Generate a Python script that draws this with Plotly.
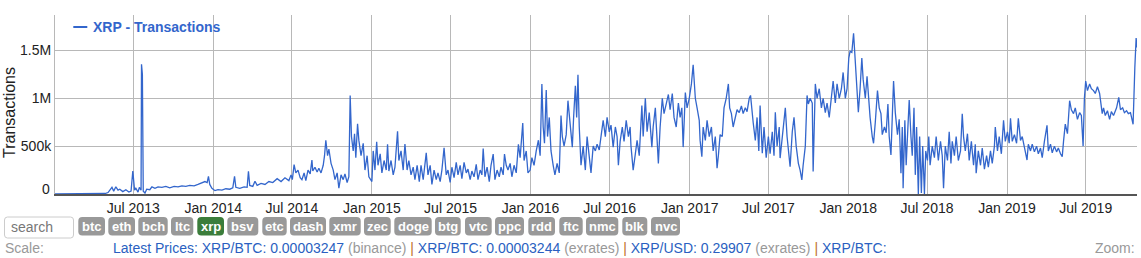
import plotly.graph_objects as go
import pandas as pd

W, H = 1141, 258
ML, MR, MT, MB = 55, 4, 15, 64

# ---- data: (day index since 2013-01-01, transactions in thousands) ----
seg_2013_2014 = [
    (1, 2), (35, 3), (81, 3), (116, 5), (123, 15), (132, 70), (136, 30), (141, 75), (146, 40), (150, 50),
    (157, 25), (164, 45), (171, 20), (176, 30), (180, 240), (184, 40), (187, 60), (192, 20), (195, 70), (199, 40),
    (200, 1356), (202, 1250), (204, 30), (208, 10), (212, 50), (219, 45), (224, 75), (231, 60), (238, 75), (247, 70),
    (256, 80), (265, 65), (275, 80), (284, 75), (293, 85), (302, 80), (311, 90), (321, 85), (330, 100), (339, 115),
    (346, 130), (351, 120), (354, 185), (357, 100), (362, 60), (369, 35), (376, 45), (385, 40), (394, 55), (403, 50),
    (410, 65), (414, 185), (417, 70), (426, 60), (436, 75), (443, 70), (446, 238), (449, 90), (456, 80), (461, 133),
    (466, 90), (475, 110), (484, 100), (493, 130), (502, 120), (512, 160), (521, 130), (530, 170), (539, 140), (544, 200),
    (547, 150), (551, 307), (555, 220), (560, 250), (565, 170),
]
seg_2014_2017 = [
    (569, 150), (574, 220), (578, 140), (583, 250), (588, 210), (592, 355), (594, 240), (599, 280), (604, 230), (608, 270),
    (613, 220), (618, 300), (621, 400), (624, 562), (628, 400), (631, 470), (636, 320), (641, 250), (645, 150), (650, 220),
    (654, 62), (659, 200), (664, 150), (668, 210), (673, 120), (677, 180), (680, 1030), (683, 600), (687, 450), (690, 630),
    (693, 380), (697, 734), (700, 560), (705, 400), (710, 530), (714, 250), (719, 400), (723, 180), (730, 130), (733, 450),
    (737, 250), (741, 545), (744, 300), (749, 420), (753, 220), (758, 350), (763, 250), (766, 520), (769, 240), (774, 350),
    (779, 200), (783, 280), (789, 655), (792, 350), (797, 450), (802, 250), (806, 522), (811, 250), (815, 350), (820, 200),
    (825, 280), (829, 150), (834, 300), (839, 130), (843, 300), (848, 150), (855, 430), (859, 200), (864, 300), (868, 100),
    (873, 250), (878, 150), (882, 220), (887, 130), (891, 250), (896, 483), (901, 200), (905, 250), (910, 120), (914, 280),
    (919, 170), (924, 330), (928, 200), (933, 300), (937, 160), (942, 330), (947, 220), (951, 260), (956, 150), (960, 240),
    (965, 180), (970, 310), (974, 150), (979, 250), (983, 200), (986, 476), (990, 180), (995, 280), (1000, 130), (1004, 300),
    (1009, 417), (1013, 150), (1018, 250), (1023, 180), (1027, 280), (1032, 200), (1035, 417), (1039, 300), (1043, 250), (1048, 320),
    (1052, 180), (1057, 300), (1062, 220), (1067, 520), (1071, 380), (1077, 741), (1080, 350), (1085, 450), (1089, 220), (1094, 250),
    (1098, 380), (1103, 300), (1108, 450), (1113, 562), (1117, 400), (1121, 1150), (1124, 700), (1127, 530), (1131, 1086), (1134, 600),
    (1138, 800), (1142, 450), (1147, 300), (1151, 200), (1156, 320), (1161, 220), (1165, 820), (1168, 600), (1172, 500), (1177, 620),
    (1181, 975), (1186, 700), (1191, 490), (1194, 800), (1198, 1130), (1201, 800), (1204, 1245), (1207, 700), (1211, 300), (1216, 500),
    (1221, 250), (1225, 600), (1230, 350), (1234, 220), (1239, 500), (1244, 450), (1248, 520), (1253, 460), (1257, 600), (1262, 770),
    (1267, 600), (1271, 800), (1276, 650), (1280, 720), (1285, 490), (1290, 700), (1294, 600), (1297, 300), (1301, 550), (1306, 700),
    (1310, 550), (1315, 770), (1320, 600), (1324, 700), (1326, 500), (1331, 250), (1336, 420), (1340, 560), (1345, 400), (1351, 925),
    (1354, 600), (1359, 1000), (1363, 650), (1368, 850), (1374, 490), (1377, 700), (1382, 900), (1385, 600), (1389, 320), (1393, 700),
    (1398, 1000), (1402, 840), (1407, 950), (1412, 1040), (1416, 880), (1421, 1050), (1425, 800), (1430, 700), (1435, 950), (1439, 800),
    (1443, 900), (1446, 490), (1451, 1060), (1455, 900), (1460, 1000), (1465, 1150), (1469, 1350), (1474, 1000), (1478, 900), (1483, 770),
    (1485, 560),
]
seg_2017_2018 = [
    (1489, 390), (1492, 700), (1497, 560), (1501, 770), (1506, 600), (1511, 700), (1515, 450), (1520, 600), (1524, 270), (1527, 400),
    (1531, 620), (1536, 600), (1540, 900), (1545, 1000), (1550, 1150), (1553, 900), (1557, 840), (1561, 700), (1566, 800), (1570, 880),
    (1575, 850), (1580, 920), (1584, 840), (1589, 900), (1593, 860), (1598, 1000), (1601, 1030), (1604, 840), (1607, 750), (1612, 560),
    (1616, 800), (1620, 450), (1623, 925), (1628, 425), (1632, 700), (1637, 380), (1642, 600), (1646, 420), (1651, 650), (1655, 400),
    (1658, 855), (1662, 500), (1667, 700), (1669, 375), (1674, 600), (1681, 900), (1685, 600), (1690, 400), (1692, 286), (1697, 650),
    (1701, 800), (1706, 500), (1711, 320), (1715, 250), (1719, 148), (1722, 300), (1727, 500), (1731, 1030), (1734, 940), (1738, 1000),
    (1743, 950), (1745, 235), (1750, 1150), (1754, 1000), (1759, 1100), (1764, 900), (1768, 1000), (1773, 850), (1777, 950), (1782, 800),
    (1787, 1000), (1791, 1180), (1796, 950), (1800, 1150), (1805, 1000), (1810, 1100), (1814, 1270), (1819, 1000), (1823, 1100), (1827, 1420),
    (1830, 1490), (1834, 1480), (1838, 1680), (1842, 1390), (1846, 1050), (1849, 855), (1853, 1100), (1857, 1420), (1860, 1200), (1865, 1000),
    (1869, 1230), (1872, 1000), (1876, 800), (1881, 600), (1884, 530), (1888, 750), (1893, 1080), (1897, 900), (1901, 840), (1904, 620),
    (1909, 700), (1913, 640), (1917, 940), (1920, 600), (1924, 407), (1927, 800), (1930, 1180), (1934, 850), (1939, 620), (1943, 780),
    (1947, 217), (1950, 700), (1952, 60), (1956, 770), (1959, 300), (1963, 700), (1966, 983), (1970, 600), (1973, 400), (1977, 900),
    (1980, 200), (1983, 700), (1987, 0), (1990, 600), (1994, 10), (1997, 500), (2001, 0), (2004, 450), (2008, 350), (2011, 600),
    (2014, 300), (2019, 500), (2024, 380), (2028, 600), (2033, 350), (2038, 550),
]
seg_2018_2019 = [
    (2042, 400), (2045, 60), (2049, 500), (2054, 350), (2058, 650), (2062, 320), (2065, 550), (2070, 400), (2074, 600), (2079, 350),
    (2084, 450), (2088, 838), (2091, 600), (2095, 450), (2100, 630), (2104, 350), (2109, 550), (2114, 300), (2118, 520), (2120, 217),
    (2125, 450), (2130, 300), (2134, 480), (2139, 260), (2144, 400), (2148, 280), (2153, 450), (2157, 320), (2162, 500), (2164, 700),
    (2169, 450), (2173, 600), (2178, 420), (2183, 770), (2187, 550), (2192, 650), (2196, 530), (2199, 790), (2203, 550), (2208, 620),
    (2213, 530), (2217, 790), (2222, 560), (2226, 600), (2231, 490), (2237, 355), (2240, 520), (2245, 450), (2249, 520), (2254, 440),
    (2259, 500), (2263, 420), (2268, 480), (2272, 380), (2277, 550), (2283, 717), (2286, 450), (2291, 520), (2295, 430), (2300, 500),
    (2305, 440), (2309, 480), (2314, 420), (2318, 390), (2321, 550), (2325, 730), (2330, 630), (2335, 975), (2339, 880), (2344, 840),
    (2348, 900), (2353, 780), (2358, 850), (2362, 820), (2366, 500), (2369, 1000), (2372, 1180), (2376, 1080), (2381, 1150), (2385, 1100),
    (2390, 1080), (2394, 1050), (2399, 1120), (2404, 1050), (2410, 840), (2413, 900), (2417, 820), (2422, 870), (2427, 780), (2431, 860),
    (2436, 820), (2440, 880), (2443, 900), (2448, 1010), (2452, 880), (2457, 900), (2461, 850), (2466, 870), (2470, 840), (2475, 850),
    (2481, 728), (2485, 1320), (2488, 1630), (2490, 1530),
]

y_tick_vals = [0, 500000, 1000000, 1500000]
y_tick_text = ["0", "500k", "1M", "1.5M"]
coin_buttons = ["btc", "eth", "bch", "ltc", "xrp", "bsv", "etc", "dash", "xmr", "zec",
                "doge", "btg", "vtc", "ppc", "rdd", "ftc", "nmc", "blk", "nvc"]
active_coin = "xrp"

pairs = seg_2013_2014 + seg_2014_2017 + seg_2017_2018 + seg_2018_2019
day_index = [p[0] for p in pairs]
tx_thousands = [p[1] for p in pairs]
dates = pd.Timestamp("2013-01-01") + pd.to_timedelta(day_index, unit="D")
tx = [v * 1000 for v in tx_thousands]

BLUE = "#3366cc"
GRID = "#b8b8b8"
FONT = "Arial, Liberation Sans, sans-serif"

# ---- layout helpers (pixel -> paper) ----
PW = W - ML - MR
PH = H - MT - MB


def px(xp):
    return (xp - ML) / PW


def py(yp):
    return (H - MB - yp) / PH


def rounded(x0, y0, x1, y1, r):
    rx, ry = r / PW, r / PH
    X0, X1, Y0, Y1 = px(x0), px(x1), py(y0), py(y1)
    return (f"M {X0+rx},{Y0} L {X1-rx},{Y0} Q {X1},{Y0} {X1},{Y0-ry} "
            f"L {X1},{Y1+ry} Q {X1},{Y1} {X1-rx},{Y1} L {X0+rx},{Y1} "
            f"Q {X0},{Y1} {X0},{Y1+ry} L {X0},{Y0-ry} Q {X0},{Y0} {X0+rx},{Y0} Z")


fig = go.Figure()
fig.add_trace(go.Scatter(x=dates, y=tx, mode="lines",
                         line=dict(color=BLUE, width=1.3),
                         hoverinfo="skip", showlegend=False))

shapes = []
annotations = []

# legend
shapes.append(dict(type="line", xref="paper", yref="paper",
                   x0=px(73.3), x1=px(87.3), y0=py(27), y1=py(27),
                   line=dict(color=BLUE, width=2)))
annotations.append(dict(xref="paper", yref="paper", x=px(90.5), y=py(27),
                        xanchor="left", yanchor="middle", showarrow=False,
                        text="<b>XRP - Transactions</b>",
                        font=dict(family=FONT, size=14, color=BLUE)))

# y axis title and "0" label
annotations.append(dict(xref="paper", yref="paper", x=px(9), y=py(113),
                        xanchor="center", yanchor="middle", showarrow=False,
                        text="Transactions", textangle=-90,
                        font=dict(family=FONT, size=16, color="#222")))
annotations.append(dict(xref="paper", yref="paper", x=px(52), y=py(189),
                        xanchor="right", yanchor="middle", showarrow=False,
                        text=y_tick_text[0],
                        font=dict(family=FONT, size=14, color="#222")))

# search box
shapes.append(dict(type="path", xref="paper", yref="paper",
                   path=rounded(4.5, 217, 73.5, 238, 3),
                   fillcolor="white", line=dict(color="#cccccc", width=1)))
annotations.append(dict(xref="paper", yref="paper", x=px(9), y=py(227.5),
                        xanchor="left", yanchor="middle", showarrow=False,
                        text="search", font=dict(family=FONT, size=14, color="#777")))

# coin pills
pill_extents = [(78.3, 105), (108.3, 135), (138.3, 167.7), (171, 193.3), (197.3, 224),
                (227.3, 258.3), (262.3, 286.7), (290, 326), (329.3, 360.7), (364, 390.7),
                (394.3, 431.7), (435, 460.7), (465, 491.7), (495, 524), (528.3, 555),
                (559.3, 582.7), (586, 618.3), (622.3, 647.3), (651, 680)]
for name, (a, b) in zip(coin_buttons, pill_extents):
    col = "#3b7d3b" if name == active_coin else "#999999"
    shapes.append(dict(type="path", xref="paper", yref="paper",
                       path=rounded(a, 217, b, 235.5, 4),
                       fillcolor=col, line=dict(width=0)))
    annotations.append(dict(xref="paper", yref="paper", x=px((a + b) / 2), y=py(226.5),
                            xanchor="center", yanchor="middle", showarrow=False,
                            text=f"<b>{name}</b>",
                            font=dict(family=FONT, size=13, color="white")))

# bottom info row
annotations.append(dict(xref="paper", yref="paper", x=px(3), y=py(248),
                        xanchor="left", yanchor="middle", showarrow=False,
                        text="Scale:", font=dict(family=FONT, size=14, color="#999")))
lb, gr, sep = "#2a5fc1", "#999999", "#c0702a"
info = (f'<span style="color:{lb}">Latest Prices: XRP/BTC: 0.00003247</span> '
        f'<span style="color:{gr}">(binance)</span> <span style="color:{sep}">|</span> '
        f'<span style="color:{lb}">XRP/BTC: 0.00003244</span> '
        f'<span style="color:{gr}">(exrates)</span> <span style="color:{sep}">|</span> '
        f'<span style="color:{lb}">XRP/USD: 0.29907</span> '
        f'<span style="color:{gr}">(exrates)</span> <span style="color:{sep}">|</span> '
        f'<span style="color:{lb}">XRP/BTC:</span>')
annotations.append(dict(xref="paper", yref="paper", x=px(110.5), y=py(248),
                        xanchor="left", yanchor="middle", showarrow=False,
                        text=info, font=dict(family=FONT, size=14, color=lb)))
annotations.append(dict(xref="paper", yref="paper", x=px(1137), y=py(248),
                        xanchor="right", yanchor="middle", showarrow=False,
                        text="Zoom:", font=dict(family=FONT, size=14, color="#999")))

fig.update_layout(
    width=W, height=H, autosize=False,
    margin=dict(l=ML, r=MR, t=MT, b=MB, pad=0),
    paper_bgcolor="white", plot_bgcolor="white",
    hovermode=False, showlegend=False,
    font=dict(family=FONT, size=14, color="#222"),
    xaxis=dict(type="date", range=["2013-01-02", "2019-10-27"],
               tick0="2013-01-01", dtick="M6", tickformat="%b %Y",
               showgrid=True, gridcolor=GRID, gridwidth=1,
               showline=True, linecolor="#555", linewidth=1.5,
               ticks="", zeroline=False,
               tickfont=dict(family=FONT, size=14, color="#222")),
    yaxis=dict(range=[0, 1870000], tickvals=y_tick_vals,
               ticktext=[""] + y_tick_text[1:],
               showgrid=True, gridcolor=GRID, gridwidth=1,
               showline=True, linecolor=GRID, linewidth=1,
               ticks="", zeroline=False,
               tickfont=dict(family=FONT, size=14, color="#222")),
    shapes=shapes, annotations=annotations,
)

fig.write_html("out.html", config={"displayModeBar": False})
